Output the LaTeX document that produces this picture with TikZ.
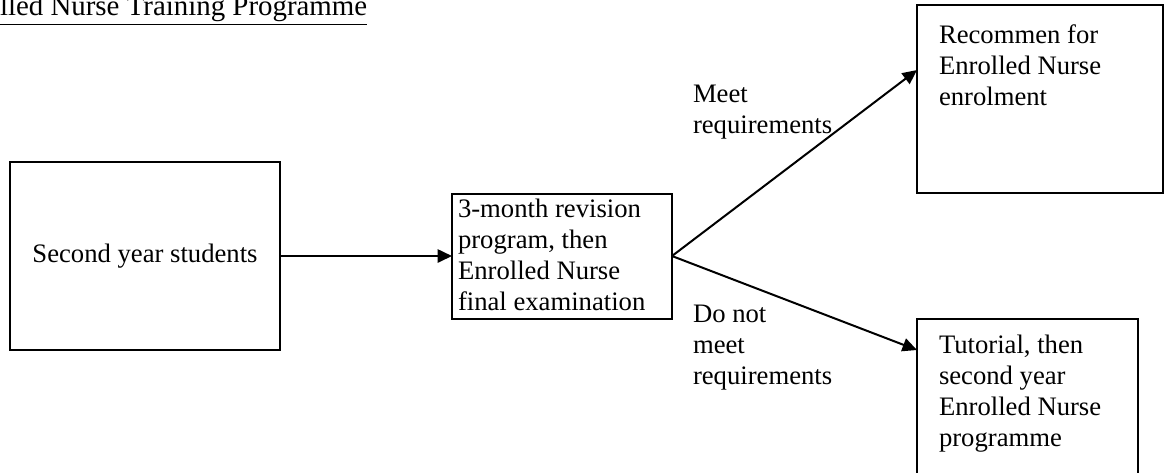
\documentclass[tikz,border=0pt]{standalone}
\usepackage{fontspec}
\setmainfont{Liberation Serif}
\usetikzlibrary{arrows.meta}

\tikzset{every picture/.style={line width=0.9pt}}
\def\px{0.45pt}% one pixel of the layout
\tikzset{
  box/.style 2 args={draw, rectangle, minimum width=#1*\px,
                minimum height=#2*\px, inner sep=0pt, outer sep=0pt,
                font=\fontsize{12}{13.95}\selectfont},
  % base of a multi-line node is its last line
  txt/.style={anchor=base west, align=left, inner sep=0pt,
                font=\fontsize{12}{13.95}\selectfont},
  arr/.style={-{Triangle[length=6.5pt, width=6pt]}},
}

\begin{document}
\begin{tikzpicture}[x=\px, y=-\px]
  \clip (0,0) rectangle (1172,472);
  % heading, cut at the left edge
  \node[txt, font=\fontsize{13}{15}\selectfont] (title) at (-1,15)
    {\underline{lled Nurse Training Programme}};
  % boxes
  \node[box={270}{188}] (start) at (145,256) {Second year students};
  \node[box={220}{125}] (exam) at (562,256) {};
  \node[box={246}{188}] (pass) at (1040,99) {};
  \node[box={221}{171}] (fail) at (1027.5,404.5) {};
  % texts in the boxes
  \node[txt] (examtxt) at (457,310)
    {3-month revision\\program, then\\Enrolled Nurse\\final examination};
  \node[txt] (passtxt) at (938,105)
    {Recommen for\\Enrolled Nurse\\enrolment};
  \node[txt] (failtxt) at (938,446)
    {Tutorial, then\\second year\\Enrolled Nurse\\programme};
  % labels on the branches
  \node[txt] (meet) at (692,133) {Meet\\requirements};
  \node[txt] (notmeet) at (692,384) {Do not\\meet\\requirements};
  % connect boxes
  \draw[arr] (start.east) -- (exam.west);
  \draw[arr] (exam.east) -- ([yshift=29*\px]pass.west);
  \draw[arr] (exam.east) -- ([yshift=54.5*\px]fail.west);
\end{tikzpicture}
\end{document}
